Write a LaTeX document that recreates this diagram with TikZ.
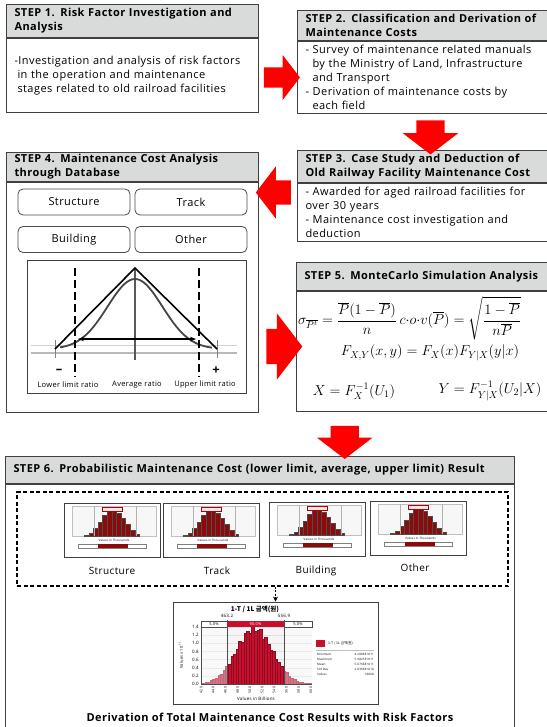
\documentclass[tikz,border=0pt]{standalone}
\usepackage{amsmath}
\usepackage{fontspec}
\setmainfont{Open Sans}[LetterSpace=4]
\newfontfamily\krfont{Noto Sans CJK KR}
\usetikzlibrary{shapes.arrows, arrows.meta, positioning, calc}
\definecolor{headgray}{HTML}{D9DBDB}
\definecolor{framegray}{HTML}{404040}
\definecolor{arrowred}{HTML}{FF0000}
\definecolor{crimson}{HTML}{C8102E}
\definecolor{darkbar}{HTML}{8B0A0A}

\begin{document}
\begin{tikzpicture}[
    x=1pt, y=-1pt,
    font=\fontsize{11}{14}\selectfont,
    stephead/.style={
        rectangle, draw=framegray, line width=1pt,
        fill=headgray, anchor=north west, align=left,
        text width=#1, inner xsep=8pt, inner ysep=2pt,
        font=\fontsize{11}{14}\selectfont\bfseries
    },
    stephead/.default=236pt,
    stepbody/.style={
        rectangle, draw=framegray, line width=1pt,
        fill=white, anchor=north west, align=left,
        text width=#1, inner xsep=8pt, inner ysep=2pt
    },
    stepbody/.default=236pt,
    bigarrow/.style={
        single arrow, fill=arrowred, draw=none,
        inner xsep=0pt, inner ysep=13.5pt,
        single arrow head extend=11.5pt, single arrow tip angle=105,
        minimum height=35pt
    },
    btn/.style={
        rectangle, rounded corners=5pt, draw=gray!60!black, line width=0.8pt,
        fill=white, minimum width=112pt, minimum height=26pt
    },
    ratiolabel/.style={font=\fontsize{7.5}{8}\selectfont, inner sep=0pt},
    eqtext/.style={inner sep=0pt, font=\fontsize{14}{16}\selectfont},
    tinytext/.style={font=\fontsize{3}{3.5}\selectfont, inner sep=0pt},
    conn/.style={line width=1pt, dash pattern=on 2pt off 1.5pt, -{Stealth[length=5pt,width=5pt]}}
]
\useasboundingbox[fill=white] (0,0) rectangle (546,727);

% -------------------------
% 1. Top row: STEP 1 and STEP 2
% -------------------------
\node[stephead, minimum height=33pt] (s1head) at (6,4) {STEP 1. Risk Factor Investigation and\\Analysis};
\node[stepbody, minimum height=74pt] (s1body) at (s1head.south west)
    {-Investigation and analysis of risk factors\\\hspace*{3pt}in the operation and maintenance\\\hspace*{3pt}stages related to old railroad facilities};

\node[stephead=250pt, minimum height=30pt] (s2head) at (297,10) {STEP 2. Classification and Derivation of\\Maintenance Costs};
\node[stepbody=250pt, minimum height=72pt] (s2body) at (s2head.south west)
    {- Survey of maintenance related manuals\\\hspace*{7pt}by the Ministry of Land, Infrastructure\\\hspace*{7pt}and Transport\\- Derivation of maintenance costs by\\\hspace*{7pt}each field};

% -------------------------
% 2. Middle row: STEP 4 (left) and STEP 3 (right)
% -------------------------
\node[stephead=250pt, minimum height=32pt] (s3head) at (297,150) {STEP 3. Case Study and Deduction of\\Old Railway Facility Maintenance Cost};
\node[stepbody=250pt, minimum height=58pt] (s3body) at (s3head.south west)
    {- Awarded for aged railroad facilities for\\over 30 years\\- Maintenance cost investigation and\\deduction};

\node[stephead, minimum height=28pt] (s4head) at (6,152) {STEP 4. Maintenance Cost Analysis\\through Database};
\node[stepbody, minimum height=230pt] (s4body) at (s4head.south west) {};

\node[btn] (bstruct) at (74,202) {Structure};
\node[btn] (btrack) at (191,202) {Track};
\node[btn] (bbuild) at (74,239.5) {Building};
\node[btn] (bother) at (191,239.5) {Other};

% ratio chart
\node[draw=framegray, line width=0.8pt, minimum width=219pt, minimum height=133pt, inner sep=0pt] (ratio) at (136.5,326.5) {};
\draw[gray!35, line width=1pt] (31,345) -- (237,345);
\draw[gray!55, line width=1.2pt] (31,353) -- (237,353);
\draw[gray!70!black, line width=1.2pt] (135,268) -- (135,360);
\draw[gray, line width=1pt] (55,340) -- (55,358) (217,340) -- (217,358);
\draw[gray!55!black, line width=1.8pt] plot[domain=60:212, samples=60, smooth] (\x, {349-70*exp(-((\x-135)^2)/1500)});
\draw[line width=1.6pt] (55,349) -- (135,268) -- (217,349);
\draw[line width=1.6pt, dash pattern=on 8pt off 4pt] (75,268) -- (75,377) (199,268) -- (199,377);
\draw[line width=1.2pt, {Stealth[length=6pt]}-{Stealth[length=6pt]}] (78,339) -- (196,339);
\node[font=\fontsize{13}{13}\selectfont\bfseries] (minus) at (59,371) {--};
\node[font=\fontsize{13}{13}\selectfont\bfseries] (plus) at (216,371) {+};
\node[ratiolabel] (lowlab) at (68,385) {Lower limit ratio};
\node[ratiolabel] (avglab) at (137,385) {Average ratio};
\node[ratiolabel] (uplab) at (205,385) {Upper limit ratio};

% -------------------------
% 3. STEP 5 (right)
% -------------------------
\node[stephead=250pt, minimum height=28pt] (s5head) at (296,262) {STEP 5. MonteCarlo Simulation Analysis};
\node[stepbody=250pt, minimum height=120pt] (s5body) at (s5head.south west) {};
\node[eqtext, anchor=west] (eq1) at (298,318)
    {$\sigma_{\overline{P^t}}=\dfrac{\overline{P}(1-\overline{P})}{n}\,c{\cdot}o{\cdot}v(\overline{P})=\sqrt{\dfrac{1-\overline{P}}{n\overline{P}}}$};
\node[eqtext] (eq2) at (430,353) {$F_{X,Y}(x,y)=F_X(x)F_{Y|X}(y|x)$};
\node[eqtext] (eq3a) at (354,391) {$X=F_X^{-1}(U_1)$};
\node[eqtext] (eq3b) at (490,391) {$Y=F_{Y|X}^{-1}(U_2|X)$};

% -------------------------
% 4. STEP 6 (bottom)
% -------------------------
\node[stephead=493pt, minimum height=27pt] (s6head) at (5,456) {STEP 6. Probabilistic Maintenance Cost (lower limit, average, upper limit) Result};
\node[stepbody=493pt, minimum height=243pt] (s6body) at (s6head.south west) {};

\node[draw, line width=1.2pt, dash pattern=on 4pt off 2.5pt, minimum width=491pt, minimum height=94pt, inner sep=0pt] (dashbox) at (262.5,539) {};

% small result histograms
\foreach \name/\cx/\cy/\lab/\lx/\ly in {hstruct/112/530/Structure/112/571, htrack/211/530/Track/217/571, hbuild/317/529/Building/316/571, hother/418.5/528/Other/415/568}{
  \node[draw=gray!50!black, line width=1pt, fill=white, minimum width=96pt, minimum height=54pt, inner sep=0pt] (\name) at (\cx,\cy) {};
  \node[font=\fontsize{10}{11}\selectfont] (\name lab) at (\lx,\ly) {\lab};
  \begin{scope}[shift={(\cx,\cy)}]
    \fill[gray!6] (-40,-24) rectangle (44,6);
    \draw[gray!50, line width=0.4pt] (-40,-24) rectangle (44,6);
    \foreach \h [count=\k] in {0.04,0.12,0.3,0.55,0.8,0.95,1.0,0.88,0.7,0.45,0.22,0.07}
      \fill[darkbar, draw=black!70, line width=0.2pt] ({-28+(\k-1)*4.6},6) rectangle ++(4.6,{-26*\h});
    \draw[gray!60, line width=0.3pt] (-18,-24) -- (-18,6) (24,-24) -- (24,6);
    \draw[red!70!black, fill=red!10, line width=0.3pt] (-10,-23) rectangle (10,-19);
    \node[tinytext] at (2,10.5) {Values in Thousands};
    \draw[gray, fill=white, line width=0.3pt] (-34,14) rectangle (34,18);
    \fill[darkbar] (-14,14) rectangle (16,18);
  \end{scope}
}

% total cost histogram
\node[draw=framegray, line width=0.8pt, fill=white, minimum width=205pt, minimum height=102pt, inner sep=0pt] (total) at (275.5,653) {};
\draw[conn] (dashbox.south -| total.north) -- (total.north);
\fill[gray!8] (201,627) rectangle (312,684);
\foreach \k in {0,...,7}
  \draw[gray!25, line width=0.3pt] (201,{684-\k*8.14}) -- (312,{684-\k*8.14});
\foreach \v [count=\k from 0] in {0.0,0.2,0.4,0.6,0.8,1.0,1.2,1.4}
  \node[font=\fontsize{4.5}{5}\selectfont, anchor=east, inner sep=1pt] at (200,{684-\k*8.14}) {\v};
\foreach \i in {0,...,41}{
  \pgfmathsetmacro\bx{202+\i*2.6}
  \pgfmathsetmacro\bh{1.36*exp(-((\bx+1.3-254)^2)/650)*(1+0.07*sin(\i*137))*40.7}
  \fill[crimson, draw=crimson!70!black, line width=0.2pt] (\bx,684) rectangle ++(2.6,-\bh);
}
\fill[white, opacity=0.4] (201,627) rectangle (227,684) (284,627) rectangle (312,684);
\draw[gray!60!black, line width=0.6pt] (227,620) -- (227,684) (284,620) -- (284,684);
\draw[gray!60!black, line width=0.4pt] (201,627) -- (201,684) -- (312,684);
\draw[gray!60!black, fill=white, line width=0.3pt] (201,621) rectangle (227,627) (284,621) rectangle (312,627);
\fill[crimson] (227,621) rectangle (284,627);
\node[font=\fontsize{4}{4.5}\selectfont, inner sep=0pt] at (214,624) {5.0\%};
\node[font=\fontsize{4}{4.5}\selectfont, inner sep=0pt, text=white] at (255.5,624) {90.0\%};
\node[font=\fontsize{4}{4.5}\selectfont, inner sep=0pt] at (298,624) {5.0\%};
\node[font=\fontsize{4.5}{5}\selectfont, inner sep=0pt] (lowmark) at (227,616) {463.2};
\node[font=\fontsize{4.5}{5}\selectfont, inner sep=0pt] (upmark) at (284,616) {556.9};
\node[font=\krfont\fontsize{6.5}{7}\selectfont\bfseries, inner sep=0pt] (ttitle) at (255,609.5) {1-T / 1L 금액(원)};
\foreach \v [count=\k from 0] in {420,440,460,480,500,520,540,560,580,600}
  \node[font=\fontsize{3.5}{4}\selectfont, rotate=90, inner sep=0pt] at ({201+\k*12.2},690) {\v};
\node[font=\fontsize{4.5}{5}\selectfont, inner sep=0pt] (xtitle) at (256,698.5) {Values in Billions};
\node[font=\fontsize{4}{4.5}\selectfont, rotate=90, inner sep=0pt] (ytitle) at (181,655) {Values x 10\textsuperscript{-11}};
% legend
\fill[crimson] (316,640) rectangle (325,647);
\node[font=\krfont\fontsize{3.5}{4}\selectfont, anchor=west, inner sep=0pt] (legtext) at (328,643.5) {1-T / 1L 금액(원)};
\draw[gray!50, line width=0.3pt] (316,650) -- (374,650);
\foreach \s/\w [count=\k from 0] in {Minimum/4.2808E+011, Maximum/5.9825E+011, Mean/5.0768E+011, Std Dev/2.8368E+010, Values/10000}{
  \node[tinytext, anchor=west] at (317,{654+\k*5}) {\s};
  \node[tinytext, anchor=east] at (374,{654+\k*5}) {\w};
}

\node[font=\fontsize{11}{12}\selectfont\bfseries] (caption) at (270,717) {Derivation of Total Maintenance Cost Results with Risk Factors};

% -------------------------
% RED ARROWS between the steps
% -------------------------
\node[bigarrow, minimum height=36pt, inner ysep=10pt, single arrow head extend=12.5pt] (a12) at ($(s1body.east)!0.5!(s2body.west) + (0,1)$) {};
\node[bigarrow, rotate=-90, minimum height=34pt, inner ysep=14pt, single arrow head extend=13.5pt] (a23) at ($(s2body.south)!0.5!(s3head.north)$) {};
\node[bigarrow, rotate=180, minimum height=35pt, inner ysep=12pt, single arrow head extend=14pt] (a34) at ($(s4body.north east)!0.5!(s3body.north west) + (0,10)$) {};
\node[bigarrow, minimum height=36pt, inner ysep=17.5pt, single arrow head extend=15.5pt] (a45) at ($(s4body.east |- s5body.west)!0.5!(s5body.west) + (0,-5)$) {};
\node[bigarrow, rotate=-90, minimum height=33pt, inner ysep=14pt, single arrow head extend=13.5pt] (a56) at ($(s5body.south)!0.5!(s6head.north) + (0,3)$) {};

\end{tikzpicture}
\end{document}
